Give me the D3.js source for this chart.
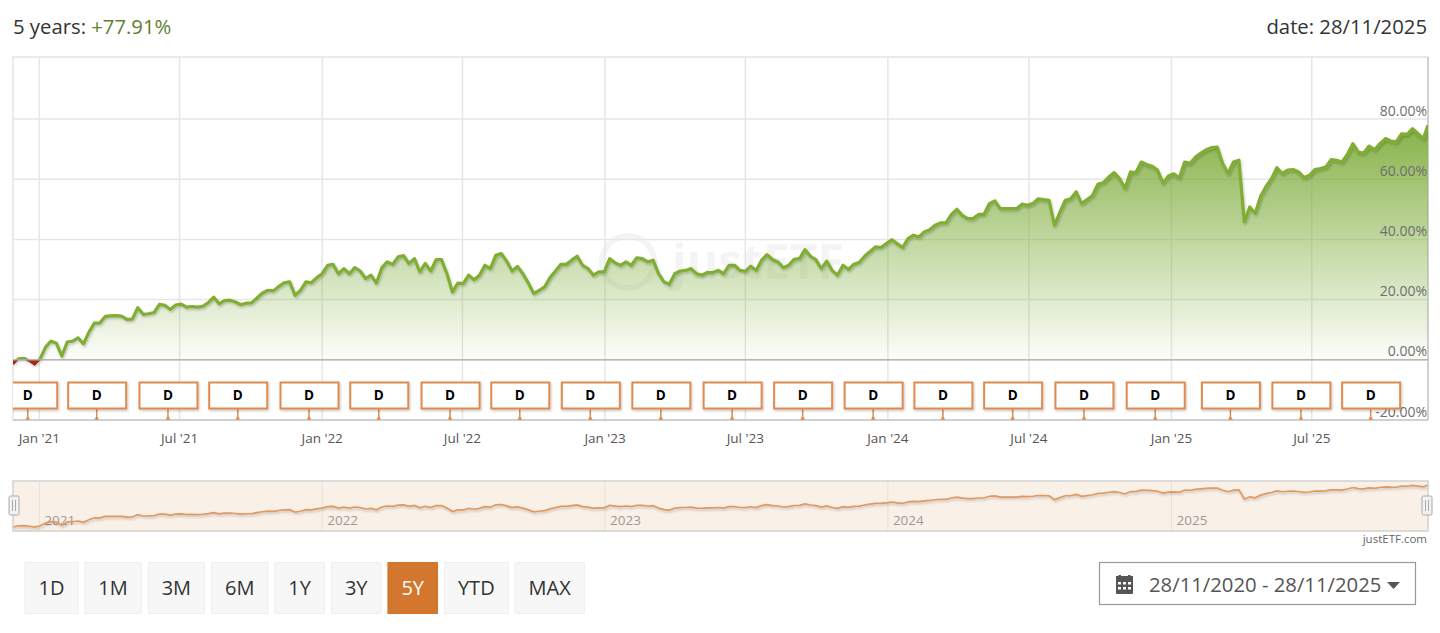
<!DOCTYPE html>
<html>
<head>
<meta charset="utf-8">
<script src="https://cdn.jsdelivr.net/npm/d3@7"></script>
<style>
  html, body { margin: 0; padding: 0; background: #fff; overflow: hidden; }
  svg { display: block; font-family: "Open Sans", sans-serif; }
</style>
</head>
<body>
<div id="chart"></div>
<script>
// performance in %, one reading per week, last one is 28/11/2025
const perfValues = [
  -1.5,0.3,0.5,-0.4,-1.6,0.3,4.2,6.2,5.5,1.2,5.9,6.2,7.3,5.3,9.2,12.2,12.2,14.4,14.6,14.7,14.5,13.4,
  13.5,17.3,15.1,15.3,15.7,18.4,18.1,16.7,18.2,18.5,17.5,17.7,17.5,17.8,19,20.8,18.6,19.7,19.8,19.2,18.3,18.8,
  18.9,20.6,22.2,23.1,22.9,24.4,25.6,25.9,21.4,23.1,25.9,25.6,27.3,28.6,31.4,31.7,28.6,30.3,28.6,30.6,29.5,27,
  28.1,25.5,30.6,32.5,31.7,34.2,34.6,32,33.6,29.2,32,29.5,33.3,33.3,28.6,22.5,25.5,25.3,28.1,26.6,28.1,31.4,
  30.3,34.7,35.3,32.8,29.5,31,28.6,25.5,22,23.1,24.2,27.3,29.5,31.7,31.7,33.1,34.4,31.4,30.3,28.1,29.2,29.2,
  33.6,32.2,31.4,32.5,31.4,33.9,33.6,32.5,33.1,28.6,25.9,25.1,28.6,29.5,29.7,30.3,28.6,28.1,29,29,29.7,28.6,31.4,
  31.4,29.7,29.4,31.1,29.7,33.1,34.9,33.3,32.5,30.6,31.4,33.4,33.6,36.6,34.4,33.3,30.3,32.8,29.7,28.1,31.4,30,
  31.7,32.3,34.4,36,37.5,37.3,38.6,39.9,38.6,37.3,40.3,41.4,40.8,42.5,43.2,44.7,45.5,45.5,48.3,50,48,46.9,
  46.9,48.3,48.3,51.9,52.8,50.2,50.2,50.2,50.2,51.7,51.3,51.9,53.5,53.2,53,44.7,49.1,53,53.5,55.8,51.9,53.2,
  54.6,58.3,58.9,60.7,62.2,60.2,56.9,62.4,62.2,65.7,64.9,64.3,63,58.7,61.1,61.8,60.4,65.7,65.3,67.4,68.7,69.8,
  70.5,70.7,65.2,61.9,65.7,66.3,45.8,50.8,48.6,54.3,57.6,60.2,63.8,61.9,63,63.2,62.4,60.5,61.3,63.2,63.5,64,
  66.5,66.3,65.7,68.3,71.8,69,68.7,71,69.8,71.8,73.5,72.7,72.4,75.1,74.9,76.8,75.1,73.5,77.91
];
const yTicks = [-20, 0, 20, 40, 60, 80];
const monthTicks = ["2021-01-01","2021-07-01","2022-01-01","2022-07-01","2023-01-01","2023-07-01","2024-01-01","2024-07-01","2025-01-01","2025-07-01"];
const monthLabels = ["Jan '21","Jul '21","Jan '22","Jul '22","Jan '23","Jul '23","Jan '24","Jul '24","Jan '25","Jul '25"];
const yearTicks = ["2021-01-01","2022-01-01","2023-01-01","2024-01-01","2025-01-01"];
const yearLabels = ["2021","2022","2023","2024","2025"];
const dividendDates = ["2020-12-17","2021-03-16","2021-06-16","2021-09-14","2021-12-15","2022-03-15","2022-06-15","2022-09-13","2022-12-13","2023-03-14",
  "2023-06-14","2023-09-13","2023-12-13","2024-03-12","2024-06-10","2024-09-10","2024-12-11","2025-03-18","2025-06-17","2025-09-15"];
const rangeButtons = ["1D","1M","3M","6M","1Y","3Y","5Y","YTD","MAX"];

const W = 1440, H = 633;
const plotL = 13, plotR = 1428, plotT = 57, plotB = 420;
const startDate = new Date(Date.UTC(2020, 10, 28)), endDate = new Date(Date.UTC(2025, 10, 28));
const parseDay = d3.utcParse("%Y-%m-%d");

// weekly dates, plus the last day
const weeks = d3.utcDay.range(startDate, endDate, 7).concat([endDate]);
const data = perfValues.map((v, i) => ({ date: weeks[i], value: v }));

const svg = d3.select("#chart").append("svg").attr("width", W).attr("height", H);
const defs = svg.append("defs");

const x = d3.scaleUtc().domain([startDate, endDate]).range([plotL, plotR]);
const y = d3.scaleLinear().domain([-20, 100]).range([plotB, 58.8]);
// the navigator runs on a log scale of the index (100 = start)
const navY = d3.scaleLog().domain([100, 178]).range([526, 485]);

// ---- defs ----
const shadow = defs.append("filter").attr("id", "shadow").attr("x", "-5%").attr("y", "-20%").attr("width", "110%").attr("height", "140%");
shadow.append("feDropShadow").attr("dx", 1).attr("dy", 1.5).attr("stdDeviation", 1).attr("flood-color", "#000").attr("flood-opacity", 0.22);

const grad = defs.append("linearGradient").attr("id", "areaFill").attr("gradientUnits", "userSpaceOnUse")
  .attr("x1", 0).attr("x2", 0).attr("y1", y(80)).attr("y2", y(0));
grad.append("stop").attr("offset", 0).attr("stop-color", "#84b044");
grad.append("stop").attr("offset", 1).attr("stop-color", "#84b044").attr("stop-opacity", 0.02);

defs.append("clipPath").attr("id", "plotClip").append("rect")
  .attr("x", plotL).attr("y", plotT).attr("width", plotR - plotL).attr("height", plotB - plotT);
defs.append("clipPath").attr("id", "aboveZero").append("rect")
  .attr("x", plotL).attr("y", plotT).attr("width", plotR - plotL).attr("height", y(0) - plotT);
defs.append("clipPath").attr("id", "belowZero").append("rect")
  .attr("x", plotL).attr("y", y(0)).attr("width", plotR - plotL).attr("height", plotB - y(0));

// ---- header ----
const header = svg.append("text").attr("x", 13).attr("y", 34).attr("font-size", 20.3).attr("fill", "#333");
header.append("tspan").text("5 years: ");
header.append("tspan").attr("fill", "#5f8030").text("+77.91%");
svg.append("text").attr("x", 1427).attr("y", 34).attr("text-anchor", "end").attr("font-size", 20.3).attr("fill", "#333").text("date: 28/11/2025");

// ---- watermark ----
const mark = svg.append("g").attr("opacity", 0.6);
mark.append("circle").attr("cx", 628).attr("cy", 262).attr("r", 26).attr("fill", "none").attr("stroke", "#eeeeee").attr("stroke-width", 6);
mark.append("text").attr("x", 672).attr("y", 279).attr("font-size", 48).attr("font-weight", 700).attr("fill", "#eeeeee").text("justETF");

// ---- grid + axes ----
const yAxis = svg.append("g").attr("transform", `translate(${plotR},0)`)
  .call(d3.axisLeft(y).offset(0).tickValues(yTicks).tickSize(plotR - plotL).tickFormat(d => d.toFixed(2) + "%"));
yAxis.select(".domain").remove();
yAxis.selectAll("line").attr("stroke", "#e6e6e6").attr("stroke-width", 1.5);
yAxis.selectAll("text").remove();

const xAxis = svg.append("g").attr("transform", `translate(0,${plotB})`)
  .call(d3.axisBottom(x).offset(0).tickValues(monthTicks.map(parseDay)).tickSize(-(plotB - plotT)).tickFormat((d, i) => monthLabels[i]));
xAxis.select(".domain").remove();
xAxis.selectAll("line").attr("stroke", "#e6e6e6").attr("stroke-width", 1.5);
xAxis.selectAll("text").remove();

// plot frame
svg.append("rect").attr("x", plotL).attr("y", plotT).attr("width", plotR - plotL).attr("height", plotB - plotT)
  .attr("fill", "none").attr("stroke", "#e3e3e3").attr("stroke-width", 1.5);
svg.append("line").attr("x1", plotR).attr("x2", plotR).attr("y1", plotT).attr("y2", plotB).attr("stroke", "#c8c8c8").attr("stroke-width", 1.5);

// ---- area + line ----
const area = d3.area().x(d => x(d.date)).y0(y(0)).y1(d => y(d.value));
const line = d3.line().x(d => x(d.date)).y(d => y(d.value));

const plot = svg.append("g").attr("clip-path", "url(#plotClip)");
plot.append("path").datum(data).attr("d", area).attr("fill", "url(#areaFill)").attr("clip-path", "url(#aboveZero)");
plot.append("path").datum(data).attr("d", area).attr("fill", "#a52a18").attr("clip-path", "url(#belowZero)");

const lineG = plot.append("g").attr("filter", "url(#shadow)");
lineG.append("g").attr("clip-path", "url(#aboveZero)").append("path").datum(data).attr("d", line)
  .attr("fill", "none").attr("stroke", "#80ae33").attr("stroke-width", 3.2).attr("stroke-linejoin", "round");
lineG.append("g").attr("clip-path", "url(#belowZero)").append("path").datum(data).attr("d", line)
  .attr("fill", "none").attr("stroke", "#a52a18").attr("stroke-width", 2);

// zero line and bottom line on top
svg.append("line").attr("x1", plotL).attr("x2", plotR).attr("y1", y(0)).attr("y2", y(0)).attr("stroke", "#b0b0b0").attr("stroke-width", 1.2);
svg.append("line").attr("x1", plotL).attr("x2", plotR).attr("y1", plotB).attr("y2", plotB).attr("stroke", "#c8c8c8").attr("stroke-width", 1.5);

// ---- axis labels ----
svg.append("g").selectAll("text").data(yTicks).join("text")
  .attr("x", 1427).attr("y", d => y(d) - 3.5).attr("text-anchor", "end").attr("font-size", 14)
  .attr("fill", "#6e6e6e").text(d => d.toFixed(2) + "%");
svg.append("g").selectAll("text").data(monthTicks).join("text")
  .attr("x", d => x(parseDay(d))).attr("y", 443).attr("text-anchor", "middle").attr("font-size", 13.5)
  .attr("fill", "#555").text((d, i) => monthLabels[i]);

// ---- dividend flags ----
const flags = svg.append("g").attr("clip-path", "url(#plotClip)").selectAll("g").data(dividendDates).join("g")
  .attr("transform", d => `translate(${x(parseDay(d))},0)`);
flags.append("line").attr("y1", 408).attr("y2", plotB).attr("stroke", "#e08a4f").attr("stroke-width", 1.5);
flags.append("path").attr("d", "M-2.5,419.5L0,416L2.5,419.5Z").attr("fill", "#e08a4f");
flags.append("rect").attr("x", -28.5).attr("y", 382.5).attr("width", 58).attr("height", 26)
  .attr("fill", "#fff").attr("stroke", "#e08a4f").attr("stroke-width", 2).attr("filter", "url(#shadow)");
flags.append("text").attr("y", 400).attr("text-anchor", "middle").attr("font-size", 13.5).attr("font-weight", 700).attr("fill", "#000").text("D");

// ---- navigator ----
const nav = svg.append("g");
nav.append("rect").attr("x", plotL).attr("y", 481).attr("width", plotR - plotL).attr("height", 50).attr("fill", "#f9f0e8");
nav.selectAll(".year").data(yearTicks).join("line").attr("class", "year")
  .attr("x1", d => x(parseDay(d))).attr("x2", d => x(parseDay(d))).attr("y1", 481).attr("y2", 531)
  .attr("stroke", "#e8e0d8").attr("stroke-width", 1);
nav.selectAll(".yearLabel").data(yearTicks).join("text").attr("class", "yearLabel")
  .attr("x", d => x(parseDay(d)) + 5).attr("y", 525).attr("font-size", 13.5).attr("fill", "#999").text((d, i) => yearLabels[i]);
nav.append("path").datum(data)
  .attr("d", d3.line().x(d => x(d.date)).y(d => navY(100 + d.value)))
  .attr("fill", "none").attr("stroke", "#e09a60").attr("stroke-width", 1.7).attr("filter", "url(#shadow)");
nav.append("rect").attr("x", plotL).attr("y", 481).attr("width", plotR - plotL).attr("height", 50)
  .attr("fill", "none").attr("stroke", "#d2d2d2").attr("stroke-width", 1.5);
[plotL + 1, plotR - 1].forEach(hx => {
  const h = nav.append("g").attr("transform", `translate(${hx},505)`);
  h.append("rect").attr("x", -5).attr("y", -9).attr("width", 10).attr("height", 19).attr("rx", 1.5)
    .attr("fill", "#f2f2f2").attr("stroke", "#aaa").attr("stroke-width", 1);
  h.append("path").attr("d", "M-1.5,-5V6M1.5,-5V6").attr("stroke", "#aaa").attr("stroke-width", 1);
});
svg.append("text").attr("x", 1427).attr("y", 543).attr("text-anchor", "end").attr("font-size", 11.5).attr("fill", "#666").text("justETF.com");

// ---- range buttons ----
let btnX = 25;
rangeButtons.forEach(b => {
  const active = b === "5Y";
  const g = svg.append("g");
  const r = g.append("rect").attr("y", 562.5).attr("height", 51)
    .attr("fill", active ? "#d2772d" : "#f7f7f7").attr("stroke", active ? "#d2772d" : "#eeeeee");
  const t = g.append("text").attr("y", 595).attr("text-anchor", "middle").attr("font-size", 20)
    .attr("fill", active ? "#fff" : "#333").text(b);
  const w = t.node().getComputedTextLength() + 27;
  r.attr("x", btnX).attr("width", w);
  t.attr("x", btnX + w / 2);
  btnX += w + 6.9;
});

// ---- date picker ----
svg.append("rect").attr("x", 1099.5).attr("y", 562.5).attr("width", 316).attr("height", 42)
  .attr("fill", "#fff").attr("stroke", "#999").attr("stroke-width", 1.2);
const cal = svg.append("g").attr("fill", "#555");
cal.append("path").attr("fill-rule", "evenodd")
  .attr("d", "M1116,578h17v15a1,1 0 0 1 -1,1h-15a1,1 0 0 1 -1,-1zM1118,582v2.5h3v-2.5zM1123,582v2.5h3v-2.5zM1128,582v2.5h3v-2.5zM1118,587v2.5h3v-2.5zM1123,587v2.5h3v-2.5zM1128,587v2.5h3v-2.5z");
cal.append("rect").attr("x", 1116).attr("y", 576).attr("width", 17).attr("height", 2.5);
cal.append("rect").attr("x", 1118.5).attr("y", 575).attr("width", 2.5).attr("height", 3);
cal.append("rect").attr("x", 1128).attr("y", 575).attr("width", 2.5).attr("height", 3);
svg.append("text").attr("x", 1149).attr("y", 592).attr("font-size", 20.3).attr("fill", "#555").text("28/11/2020 - 28/11/2025");
svg.append("path").attr("d", "M1387,582h13l-6.5,7z").attr("fill", "#555");
</script>
</body>
</html>
